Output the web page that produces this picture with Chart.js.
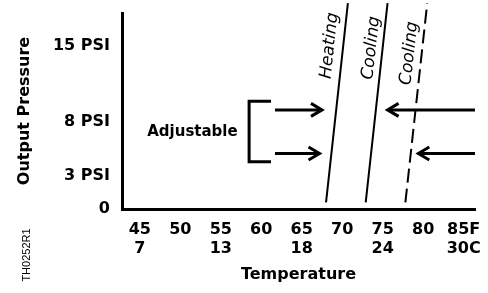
<!DOCTYPE html>
<html lang="en">
<head>
<meta charset="UTF-8" />
<title>Output Pressure vs Temperature</title>
<script src="https://cdn.jsdelivr.net/npm/chart.js@4.4.0/dist/chart.umd.min.js"></script>
<style>
  html, body { margin: 0; padding: 0; background: #fff; }
  #wrap { width: 488px; height: 293px; }
</style>
</head>
<body>
<div id="wrap"><canvas id="chart"></canvas></div>
<script>
// x axis: temperature, F on top row and C below
var tempF = [45, 50, 55, 60, 65, 70, 75, 80, 85];
var labelsF = ['45', '50', '55', '60', '65', '70', '75', '80', '85F'];
var labelsC = ['7', '', '13', '', '18', '', '24', '', '30C'];

// y axis: output pressure
var pressureTicks = [0, 3, 8, 15];
var pressureLabels = ['0', '3 PSI', '8 PSI', '15 PSI'];

// the three lines, temp at bottom and top end
var heatingX = [68.0, 70.7];
var coolingX = [72.9, 75.6];
var cooling2X = [77.8, 80.5];
var lineY = [0.6, 18.9];

var lineNames = ['Heating', 'Cooling', 'Cooling'];
var lineNameX = [68.45, 73.6, 78.3];
var lineNameY = [15.0, 14.8, 14.3];

// arrows (pressure level, start temp, tip temp)
var arrowY = [9.1, 5.1];
var leftArrowFrom = [61.7, 61.7];
var leftArrowTo = [67.5, 67.2];
var rightArrowFrom = [86.4, 86.4];
var rightArrowTo = [75.6, 79.4];

// bracket for "Adjustable"
var bracketX = [58.5, 61.2];
var bracketY = [4.35, 9.9];
var adjustableX = 51.5;
var adjustableY = 7.1;

function pts(xs) {
  return [{ x: xs[0], y: lineY[0] }, { x: xs[1], y: lineY[1] }];
}

function arrow(ctx, x0, y0, x1, y1) {
  var dir = x1 > x0 ? 1 : -1;
  ctx.beginPath();
  ctx.moveTo(x0, y0);
  ctx.lineTo(x1 - dir * 2, y1);
  ctx.stroke();
  ctx.beginPath();
  ctx.moveTo(x1 - dir * 11, y1 - 6.5);
  ctx.lineTo(x1, y1);
  ctx.lineTo(x1 - dir * 11, y1 + 6.5);
  ctx.stroke();
}

var extras = {
  id: 'extras',
  afterDatasetsDraw: function (chart) {
    var ctx = chart.ctx;
    var xs = chart.scales.x;
    var ys = chart.scales.y;
    ctx.save();
    ctx.strokeStyle = '#000';
    ctx.fillStyle = '#000';
    ctx.lineWidth = 3;
    ctx.lineJoin = 'miter';

    var bx0 = xs.getPixelForValue(bracketX[0]);
    var bx1 = xs.getPixelForValue(bracketX[1]);
    var by0 = ys.getPixelForValue(bracketY[0]);
    var by1 = ys.getPixelForValue(bracketY[1]);
    ctx.beginPath();
    ctx.moveTo(bx1, by1);
    ctx.lineTo(bx0, by1);
    ctx.lineTo(bx0, by0);
    ctx.lineTo(bx1, by0);
    ctx.stroke();

    for (var i = 0; i < arrowY.length; i++) {
      var py = ys.getPixelForValue(arrowY[i]);
      arrow(ctx, xs.getPixelForValue(leftArrowFrom[i]), py, xs.getPixelForValue(leftArrowTo[i]), py);
      arrow(ctx, xs.getPixelForValue(rightArrowFrom[i]), py, xs.getPixelForValue(rightArrowTo[i]), py);
    }

    ctx.font = 'bold 15px "DejaVu Sans"';
    ctx.textAlign = 'center';
    ctx.textBaseline = 'middle';
    ctx.fillText('Adjustable', xs.getPixelForValue(adjustableX), ys.getPixelForValue(adjustableY));

    // names along the lines, rotated to the slope of the heating line
    var ang = Math.atan2(
      ys.getPixelForValue(lineY[1]) - ys.getPixelForValue(lineY[0]),
      xs.getPixelForValue(heatingX[1]) - xs.getPixelForValue(heatingX[0])
    );
    ctx.font = 'oblique 17px "DejaVu Sans"';
    for (var j = 0; j < lineNames.length; j++) {
      ctx.save();
      ctx.translate(xs.getPixelForValue(lineNameX[j]), ys.getPixelForValue(lineNameY[j]));
      ctx.rotate(ang);
      ctx.fillText(lineNames[j], 0, 0);
      ctx.restore();
    }

    ctx.save();
    ctx.translate(27, 255);
    ctx.rotate(-Math.PI / 2);
    ctx.font = '11px "Liberation Sans"';
    ctx.fillText('TH0252R1', 0, 0);
    ctx.restore();

    ctx.restore();
  }
};

Chart.defaults.font.family = '"DejaVu Sans"';
Chart.defaults.color = '#000';

new Chart('chart', {
  type: 'line',
  data: {
    datasets: [
      { data: pts(heatingX), borderColor: '#000', borderWidth: 2 },
      { data: pts(coolingX), borderColor: '#000', borderWidth: 2 },
      { data: pts(cooling2X), borderColor: '#000', borderWidth: 2, borderDash: [14, 6] }
    ]
  },
  options: {
    responsive: true,
    maintainAspectRatio: false,
    animation: false,
    layout: { padding: { left: 0, right: 13, top: 13, bottom: 0 } },
    elements: { point: { radius: 0 }, line: { tension: 0 } },
    datasets: { line: { clip: false } },
    plugins: { legend: { display: false }, tooltip: { enabled: false } },
    scales: {
      x: {
        type: 'linear',
        min: 42.8,
        max: 86.4,
        grid: { display: false, drawTicks: false },
        border: { display: true, color: '#000', width: 3 },
        afterBuildTicks: function (scale) {
          scale.ticks = tempF.map(function (v) { return { value: v }; });
        },
        afterFit: function (scale) {
          scale.height = 84;
          scale.paddingLeft = 0;
          scale.paddingRight = 0;
        },
        ticks: {
          autoSkip: false,
          maxRotation: 0,
          padding: 11,
          font: { size: 16, weight: 'bold', lineHeight: 1.2 },
          callback: function (value) {
            var k = tempF.indexOf(value);
            return k < 0 ? '' : [labelsF[k], labelsC[k]];
          }
        },
        title: {
          display: true,
          text: 'Temperature',
          font: { size: 16, weight: 'bold', lineHeight: 1.2 },
          padding: { top: 0, bottom: 9 }
        }
      },
      y: {
        type: 'linear',
        min: 0,
        max: 18,
        grid: { display: false, drawTicks: false },
        border: { display: true, color: '#000', width: 3 },
        afterBuildTicks: function (scale) {
          scale.ticks = pressureTicks.map(function (v) { return { value: v }; });
        },
        afterFit: function (scale) {
          scale.width = 122;
          scale.paddingTop = 0;
          scale.paddingBottom = 0;
        },
        ticks: {
          padding: 12,
          font: { size: 16, weight: 'bold' },
          callback: function (value) {
            var k = pressureTicks.indexOf(value);
            return k < 0 ? '' : pressureLabels[k];
          }
        },
        title: {
          display: true,
          text: 'Output Pressure',
          font: { size: 16, weight: 'bold', lineHeight: 1.2 },
          padding: { top: 15, bottom: 0 }
        }
      }
    }
  },
  plugins: [extras]
});
</script>
</body>
</html>
